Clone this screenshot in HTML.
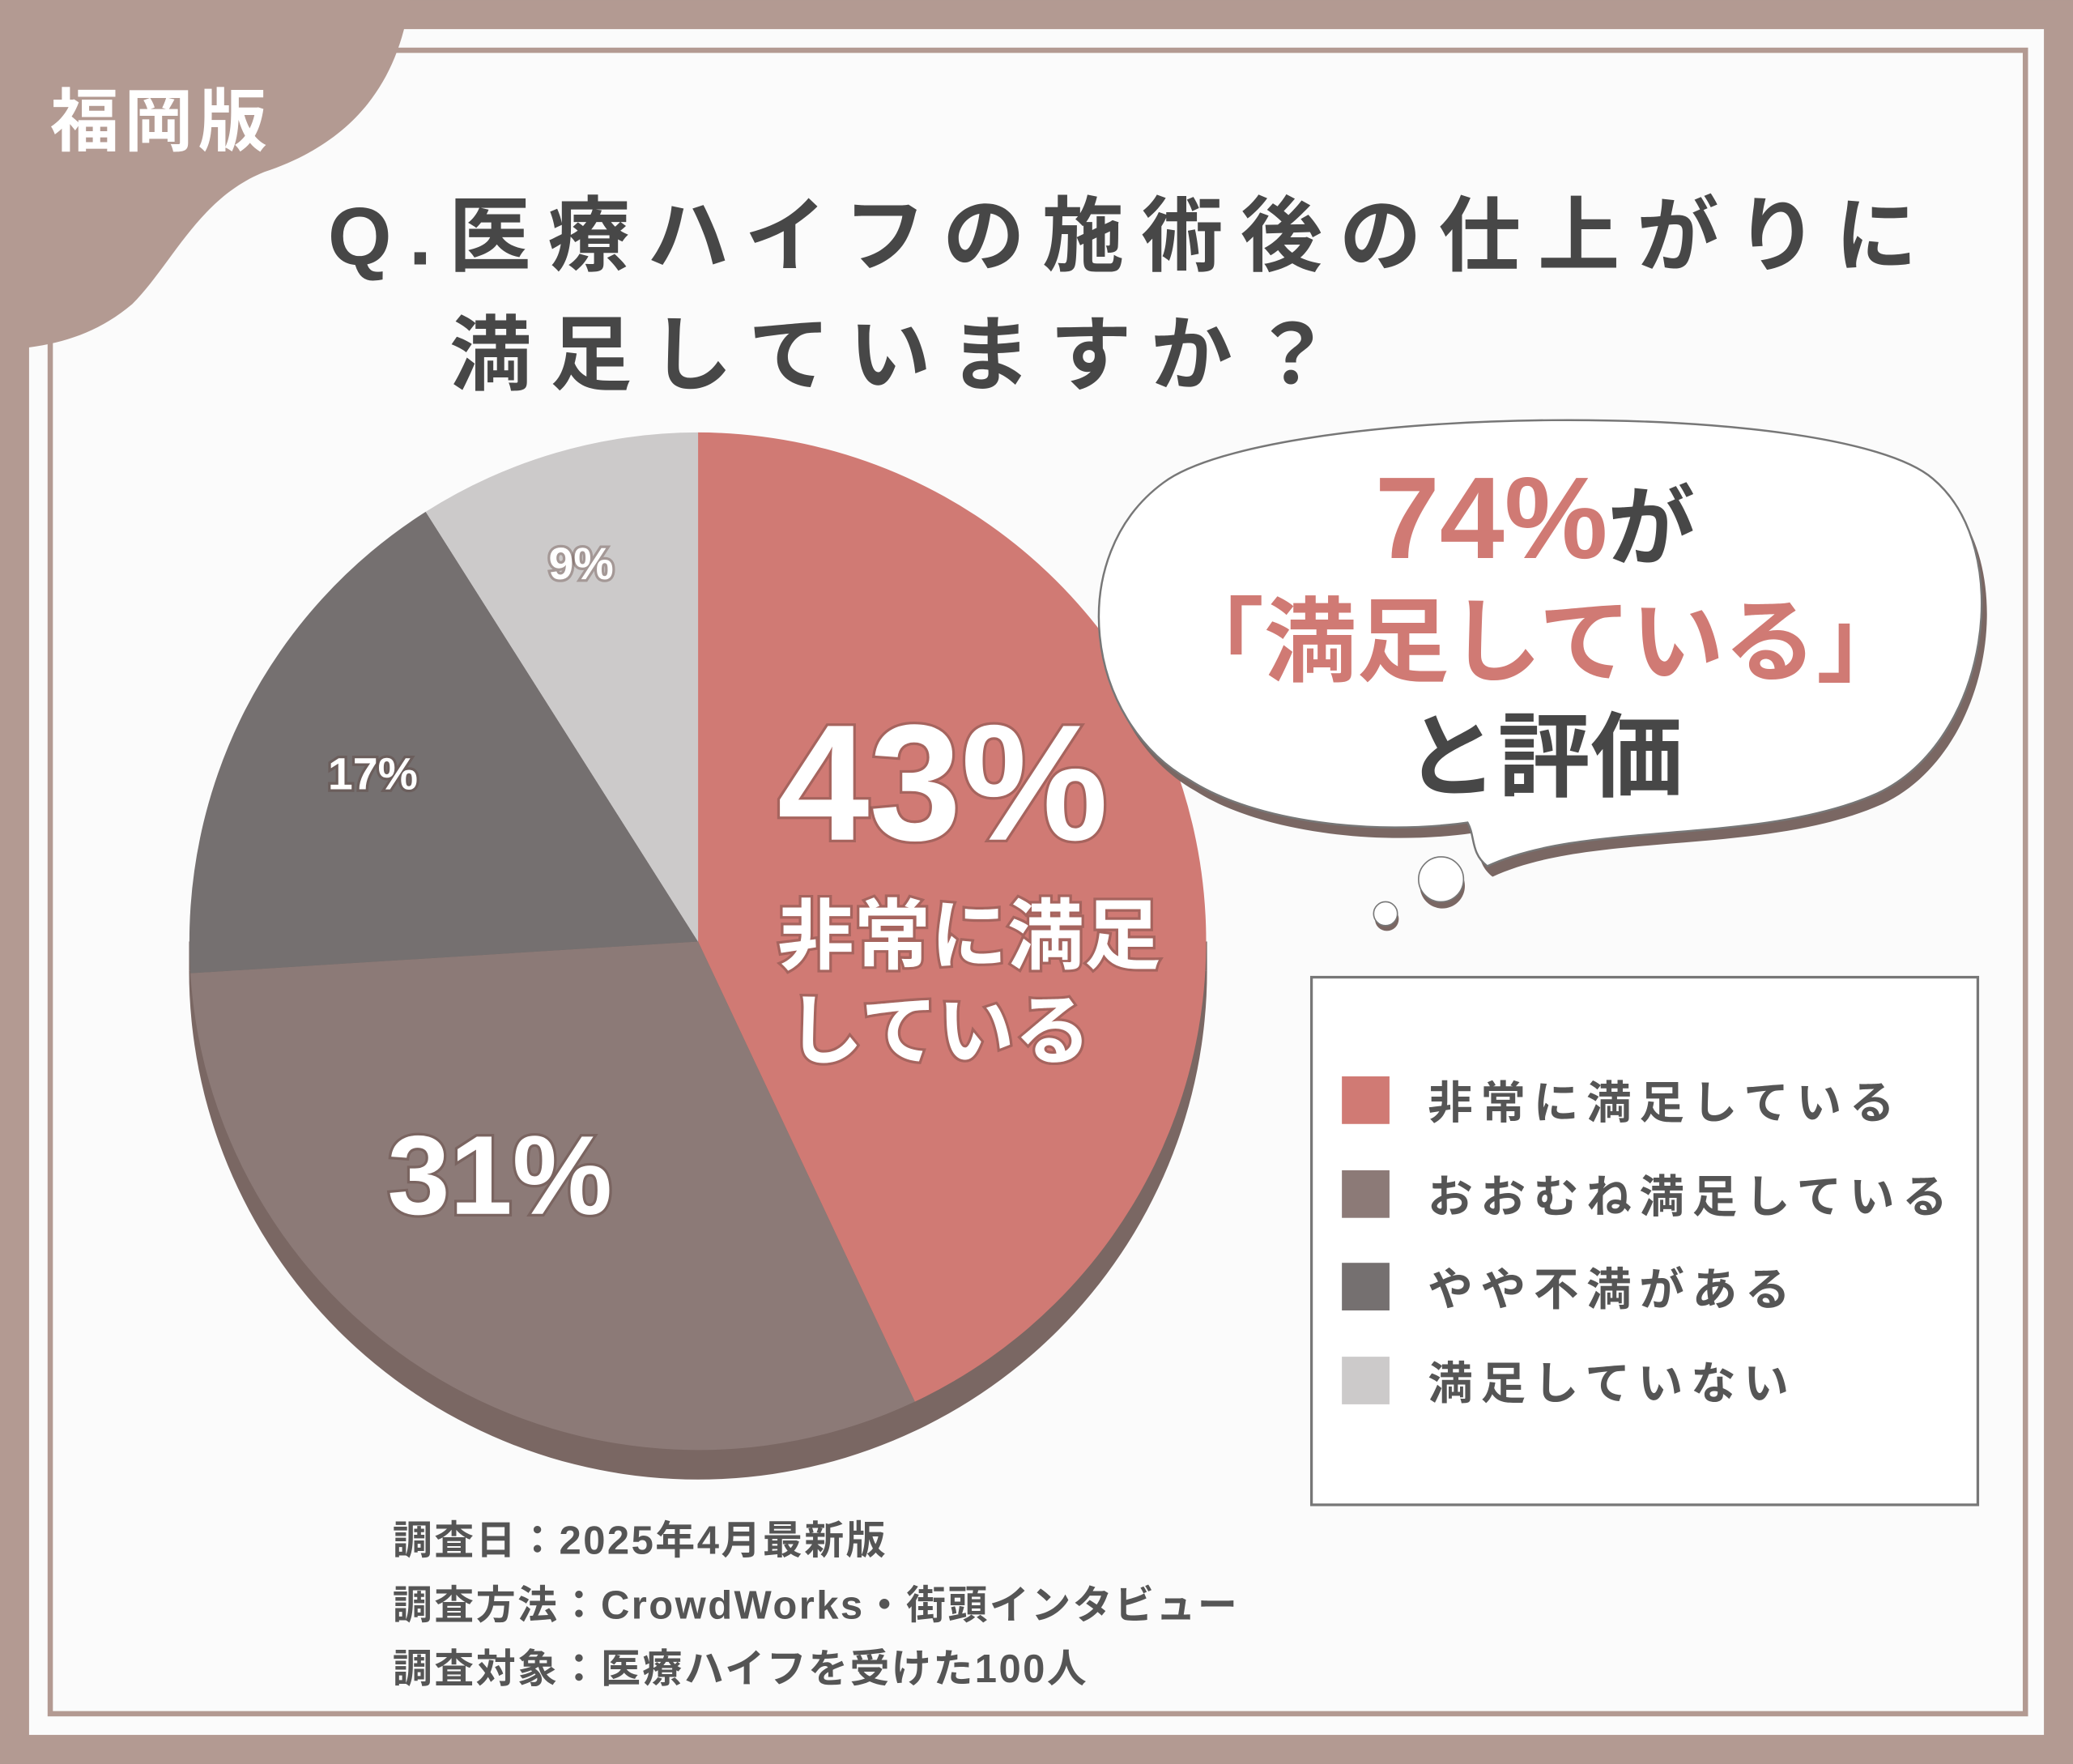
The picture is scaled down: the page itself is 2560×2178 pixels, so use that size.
<!DOCTYPE html>
<html><head><meta charset="utf-8"><style>
html,body{margin:0;padding:0;background:#b39a92}
svg{display:block}
text{font-family:"Liberation Sans","Noto Sans CJK JP",sans-serif;font-weight:700}
</style></head><body>
<svg width="2560" height="2178" viewBox="0 0 1568 1334" xmlns="http://www.w3.org/2000/svg">
<rect x="0" y="0" width="1568" height="1334" fill="#b39a92"/>
<rect x="22" y="22" width="1524" height="1290" fill="#fbfbfb"/>
<rect x="38" y="38" width="1494" height="1258" fill="none" stroke="#b39a92" stroke-width="4"/>
<path d="M0,0 H310 C300,70 260,110 200,130 C150,150 130,200 100,230 C70,255 40,262 0,265 Z" fill="#b39a92"/>
<text x="38" y="110" font-size="52" fill="#fff" letter-spacing="4">福岡版</text>
<text x="248" y="200" font-size="62" fill="#474747" letter-spacing="13">Q.医療ハイフの施術後の仕上がりに</text>
<text x="340" y="290" font-size="62" fill="#474747" letter-spacing="14">満足していますか？</text>
<g transform="translate(0,22)">
<path d="M528,712 L913,712 A385,385 0 0 1 143,712 Z" fill="#7a6763"/>
</g>
<rect x="143" y="712" width="770" height="22" fill="#7a6763"/>
<path d="M528,712 L528,327 A385,385 0 0 1 692,1060 Z" fill="#d07a74"/>
<path d="M528,712 L692,1060 A385,385 0 0 1 144,736 Z" fill="#8c7a77"/>
<path d="M528,712 L144,736 A385,385 0 0 1 322,387 Z" fill="#757070"/>
<path d="M528,712 L322,387 A385,385 0 0 1 528,327 Z" fill="#cccaca"/>
<g fill="#fff" style="paint-order:stroke" stroke="rgba(90,60,55,0.35)" stroke-width="4">
<text x="588" y="635" font-size="125">43%</text>
<text x="588" y="728" font-size="58">非常に満足</text>
<text x="595" y="800" font-size="58">している</text>
<text x="293" y="918" font-size="85">31%</text>
<text x="248" y="597" font-size="34">17%</text>
<text x="415" y="438" font-size="34">9%</text>
</g>
<path transform="translate(4,8)" d="M900,590 C820,545 805,420 880,365 C960,305 1390,300 1462,362 C1525,415 1505,560 1420,600 C1330,640 1200,620 1125,655 C1112,645 1116,632 1110,622 C1040,632 950,622 900,590 Z" fill="#7a6763"/>
<path d="M900,590 C820,545 805,420 880,365 C960,305 1390,300 1462,362 C1525,415 1505,560 1420,600 C1330,640 1200,620 1125,655 C1112,645 1116,632 1110,622 C1040,632 950,622 900,590 Z" fill="#fff" stroke="#777" stroke-width="1.5"/>
<circle cx="1091" cy="670" r="17" fill="#7a6763"/><circle cx="1090" cy="665" r="17" fill="#fff" stroke="#777" stroke-width="1"/>
<circle cx="1049" cy="695" r="9" fill="#7a6763"/><circle cx="1048" cy="691" r="9" fill="#fff" stroke="#777" stroke-width="1"/>
<text x="1040" y="422" font-size="88" fill="#d07a74">74%<tspan fill="#474747" font-size="66">が</tspan></text>
<text x="1165" y="510" font-size="70" fill="#d07a74" text-anchor="middle">「満足している」</text>
<text x="1168" y="597" font-size="70" fill="#474747" text-anchor="middle">と評価</text>
<rect x="992" y="739" width="504" height="399" fill="#fff" stroke="#777" stroke-width="2"/>
<rect x="1015" y="814" width="36" height="36" fill="#d07a74"/>
<rect x="1015" y="885" width="36" height="36" fill="#8c7a77"/>
<rect x="1015" y="955" width="36" height="36" fill="#757070"/>
<rect x="1015" y="1026" width="36" height="36" fill="#cccaca"/>
<g font-size="34" fill="#555" letter-spacing="6">
<text x="1080" y="846">非常に満足している</text>
<text x="1080" y="917">おおむね満足している</text>
<text x="1080" y="987">やや不満がある</text>
<text x="1080" y="1058">満足していない</text>
</g>
<g font-size="30" fill="#555" letter-spacing="1.5">
<text x="297" y="1175">調査日：2025年4月最新版</text>
<text x="297" y="1224">調査方法：CrowdWorks・街頭インタビュー</text>
<text x="297" y="1272">調査対象：医療ハイフを受けた100人</text>
</g>
</svg>
</body></html>
